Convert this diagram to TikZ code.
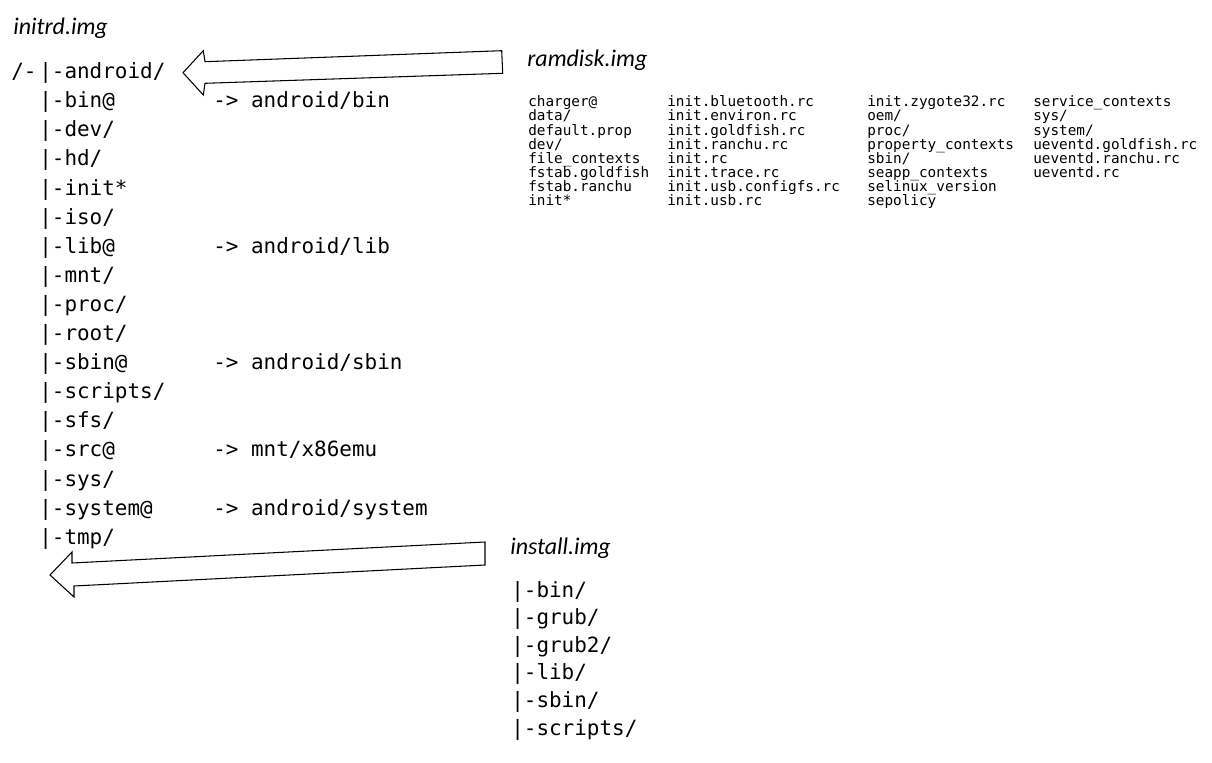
\documentclass[tikz,border=0pt]{standalone}
\usepackage{fontspec}
\setmainfont{Carlito}
\newfontfamily\treefont{DejaVu Sans Mono}
\usetikzlibrary{positioning}

\tikzset{
	imgtitle/.style={anchor=west, inner sep=0pt, font=\fontsize{17}{20}\selectfont\itshape},
	entry/.style={anchor=west, inner sep=0pt, text height=11pt, text depth=3.7pt,
		font=\treefont\fontsize{14.9}{18}\selectfont},
	listentry/.style={anchor=west, inner sep=0pt, text height=8pt, text depth=2.6pt,
		font=\treefont\fontsize{10.2}{12}\selectfont},
	block/.style={draw, line width=0.75pt, line join=miter, fill=white},
}

\begin{document}
\begin{tikzpicture}[x=0.025cm, y=-0.025cm]

	\useasboundingbox (0,0) rectangle (1212,763);
%	\draw[style=help lines, step=50] (0,0) grid (1212,763);

	% initrd.img tree
	\node[imgtitle] (initrd) at (13,28) {initrd.img};
	\node[entry] (root) at (11,73.5) {/-};
	\foreach \name [count=\i from 0] in {android/, bin@, dev/, hd/, init*, iso/, lib@, mnt/, proc/,
			root/, sbin@, scripts/, sfs/, src@, sys/, system@, tmp/}
		\node[entry] (d\i) at (39,{73.5+29.1*\i}) {|-\name};

	\coordinate (linkcol) at (213,0);
	\node[entry, anchor=west] (l1) at (linkcol |- d1) {-> android/bin};
	\node[entry, anchor=west] (l6) at (linkcol |- d6) {-> android/lib};
	\node[entry, anchor=west] (l10) at (linkcol |- d10) {-> android/sbin};
	\node[entry, anchor=west] (l13) at (linkcol |- d13) {-> mnt/x86emu};
	\node[entry, anchor=west] (l15) at (linkcol |- d15) {-> android/system};

	% ramdisk.img
	\node[imgtitle] (ramdisk) at (527,60) {ramdisk.img};
	\foreach \name [count=\i from 0] in {charger@, data/, default.prop, dev/, file\_contexts,
			fstab.goldfish, fstab.ranchu, init*}
		\node[listentry] (ra\i) at (528,{103+14.15*\i}) {\name};
	\foreach \name [count=\i from 0] in {init.bluetooth.rc, init.environ.rc, init.goldfish.rc,
			init.ranchu.rc, init.rc, init.trace.rc, init.usb.configfs.rc, init.usb.rc}
		\node[listentry] (rb\i) at (667,{103+14.15*\i}) {\name};
	\foreach \name [count=\i from 0] in {init.zygote32.rc, oem/, proc/, property\_contexts, sbin/,
			seapp\_contexts, selinux\_version, sepolicy}
		\node[listentry] (rc\i) at (867,{103+14.15*\i}) {\name};
	\foreach \name [count=\i from 0] in {service\_contexts, sys/, system/, ueventd.goldfish.rc,
			ueventd.ranchu.rc, ueventd.rc}
		\node[listentry] (rd\i) at (1033,{103+14.15*\i}) {\name};

	% install.img
	\node[imgtitle] (install) at (510,548) {install.img};
	\foreach \name [count=\i from 0] in {bin/, grub/, grub2/, lib/, sbin/, scripts/}
		\node[entry] (in\i) at (511,{592+27.6*\i}) {|-\name};

	% block arrows
	\draw[block] (183,72.7) -- (203.3,50.7) -- (205,61.7) -- (501.7,50.7)
		-- (502.7,73.3) -- (205,83.3) -- (203.3,95) -- cycle;
	\draw[block] (50,575) -- (72,552) -- (72,563) -- (485,542)
		-- (485,565) -- (74,586) -- (74,597) -- cycle;

\end{tikzpicture}
\end{document}
